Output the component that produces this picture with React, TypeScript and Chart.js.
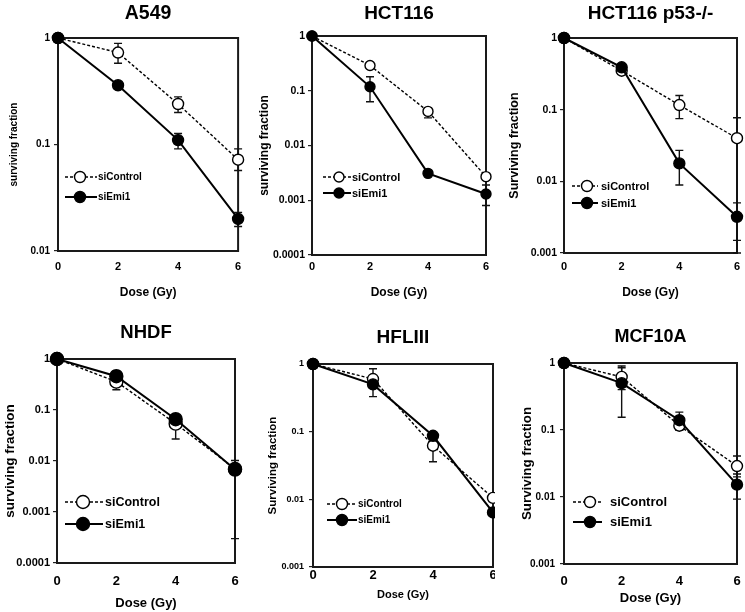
import React, { useEffect, useRef } from "react";
import { Chart, registerables } from "chart.js";

Chart.register(...registerables);

const FONT = "'Liberation Sans', Arial, Helvetica, sans-serif";

// ---------- shared ----------
const doses = [0, 2, 4, 6];
const xTickValues = [0, 2, 4, 6];
const seriesNames = ["siControl", "siEmi1"];
const xAxisTitle = "Dose (Gy)";

// ---------- A549 ----------
const a549Control = [1, 0.73, 0.24, 0.072];
const a549ControlLow = [1, 0.58, 0.2, 0.057];
const a549ControlHigh = [1, 0.89, 0.28, 0.091];
const a549Emi1 = [1, 0.36, 0.11, 0.02];
const a549Emi1Low = [1, 0.34, 0.091, 0.017];
const a549Emi1High = [1, 0.38, 0.127, 0.023];
const a549YTicks = [0.01, 0.1, 1];

// ---------- HCT116 ----------
const hctControl = [1, 0.29, 0.042, 0.0027];
const hctControlLow = [1, 0.27, 0.032, 0.0024];
const hctControlHigh = [1, 0.31, 0.048, 0.003];
const hctEmi1 = [1, 0.118, 0.0031, 0.0013];
const hctEmi1Low = [1, 0.063, 0.0029, 0.0008];
const hctEmi1High = [1, 0.18, 0.0033, 0.0019];
const hctYTicks = [0.0001, 0.001, 0.01, 0.1, 1];

// ---------- HCT116 p53-/- ----------
const p53Control = [1, 0.35, 0.116, 0.04];
const p53ControlLow = [1, 0.33, 0.075, 0.001];
const p53ControlHigh = [1, 0.37, 0.158, 0.077];
const p53Emi1 = [1, 0.39, 0.0178, 0.0032];
const p53Emi1Low = [1, 0.37, 0.0089, 0.0015];
const p53Emi1High = [1, 0.41, 0.027, 0.005];
const p53YTicks = [0.001, 0.01, 0.1, 1];

// ---------- NHDF ----------
const nhdfControl = [1, 0.36, 0.054, 0.007];
const nhdfControlLow = [1, 0.25, 0.027, 0.0065];
const nhdfControlHigh = [1, 0.45, 0.07, 0.0075];
const nhdfEmi1 = [1, 0.46, 0.066, 0.0068];
const nhdfEmi1Low = [1, 0.37, 0.055, 0.0003];
const nhdfEmi1High = [1, 0.58, 0.075, 0.0102];
const nhdfYTicks = [0.0001, 0.001, 0.01, 0.1, 1];

// ---------- HFLIII ----------
const hflControl = [1, 0.6, 0.062, 0.0105];
const hflControlLow = [1, 0.45, 0.036, 0.0095];
const hflControlHigh = [1, 0.85, 0.08, 0.0115];
const hflEmi1 = [1, 0.5, 0.087, 0.0064];
const hflEmi1Low = [1, 0.33, 0.078, 0.006];
const hflEmi1High = [1, 0.65, 0.097, 0.0068];
const hflYTicks = [0.001, 0.01, 0.1, 1];

// ---------- MCF10A ----------
const mcfControl = [1, 0.62, 0.116, 0.029];
const mcfControlLow = [1, 0.4, 0.1, 0.02];
const mcfControlHigh = [1, 0.9, 0.13, 0.041];
const mcfEmi1 = [1, 0.5, 0.14, 0.0153];
const mcfEmi1Low = [1, 0.155, 0.1, 0.0093];
const mcfEmi1High = [1, 0.85, 0.185, 0.022];
const mcfYTicks = [0.001, 0.01, 0.1, 1];

type Layout = {
  canvas: [number, number, number, number]; // left, top, right, bottom (page px)
  plot: [number, number, number, number]; // left, top, right, bottom (page px)
  clipRight?: number; // visible right edge (page px)
  titleY: number;
  titleSize: number;
  yTitleX: number;
  yTitleSize: number;
  xTitleY: number;
  xTitleSize: number;
  xTickY: number;
  xTickSize: number;
  yTickRight: number;
  yTickSize: number;
  radius: number;
  legend: { x0: number; x1: number; cx: number; tx: number; ys: [number, number]; size: number };
};

type PanelDef = {
  title: string;
  yTitle: string;
  yTicks: number[];
  control: number[];
  controlLow: number[];
  controlHigh: number[];
  emi1: number[];
  emi1Low: number[];
  emi1High: number[];
  layout: Layout;
};

const panels: PanelDef[] = [
  {
    title: "A549",
    yTitle: "surviving fraction",
    yTicks: a549YTicks,
    control: a549Control, controlLow: a549ControlLow, controlHigh: a549ControlHigh,
    emi1: a549Emi1, emi1Low: a549Emi1Low, emi1High: a549Emi1High,
    layout: {
      canvas: [0, 0, 245, 300], plot: [58, 38, 240, 251],
      titleY: 14, titleSize: 19.5,
      yTitleX: 14, yTitleSize: 10,
      xTitleY: 293, xTitleSize: 12, xTickY: 268, xTickSize: 11,
      yTickRight: 50, yTickSize: 10, radius: 5.5,
      legend: { x0: 65, x1: 97, cx: 80, tx: 98, ys: [177, 197], size: 10 },
    },
  },
  {
    title: "HCT116",
    yTitle: "surviving fraction",
    yTicks: hctYTicks,
    control: hctControl, controlLow: hctControlLow, controlHigh: hctControlHigh,
    emi1: hctEmi1, emi1Low: hctEmi1Low, emi1High: hctEmi1High,
    layout: {
      canvas: [245, 0, 494, 300], plot: [312, 36, 486, 255],
      titleY: 14, titleSize: 19,
      yTitleX: 265, yTitleSize: 12,
      xTitleY: 293, xTitleSize: 12, xTickY: 268, xTickSize: 11,
      yTickRight: 305, yTickSize: 10.5, radius: 5,
      legend: { x0: 323, x1: 351, cx: 339, tx: 352, ys: [177, 193], size: 11 },
    },
  },
  {
    title: "HCT116 p53-/-",
    yTitle: "Surviving fraction",
    yTicks: p53YTicks,
    control: p53Control, controlLow: p53ControlLow, controlHigh: p53ControlHigh,
    emi1: p53Emi1, emi1Low: p53Emi1Low, emi1High: p53Emi1High,
    layout: {
      canvas: [500, 0, 745, 300], plot: [564, 38, 737, 253],
      titleY: 14, titleSize: 19,
      yTitleX: 515, yTitleSize: 12.5,
      xTitleY: 293, xTitleSize: 12, xTickY: 268, xTickSize: 11,
      yTickRight: 557, yTickSize: 10.5, radius: 5.5,
      legend: { x0: 572, x1: 598, cx: 587, tx: 601, ys: [186, 203], size: 11 },
    },
  },
  {
    title: "NHDF",
    yTitle: "surviving fraction",
    yTicks: nhdfYTicks,
    control: nhdfControl, controlLow: nhdfControlLow, controlHigh: nhdfControlHigh,
    emi1: nhdfEmi1, emi1Low: nhdfEmi1Low, emi1High: nhdfEmi1High,
    layout: {
      canvas: [0, 305, 245, 612], plot: [57, 359, 235, 563],
      titleY: 333, titleSize: 18.5,
      yTitleX: 10, yTitleSize: 13.5,
      xTitleY: 603, xTitleSize: 13, xTickY: 582, xTickSize: 13,
      yTickRight: 50, yTickSize: 11, radius: 6.5,
      legend: { x0: 65, x1: 103, cx: 83, tx: 105, ys: [502, 524], size: 12.5 },
    },
  },
  {
    title: "HFLIII",
    yTitle: "Surviving fraction",
    yTicks: hflYTicks,
    control: hflControl, controlLow: hflControlLow, controlHigh: hflControlHigh,
    emi1: hflEmi1, emi1Low: hflEmi1Low, emi1High: hflEmi1High,
    layout: {
      canvas: [250, 305, 506, 612], plot: [313, 364, 493, 567], clipRight: 495,
      titleY: 338, titleSize: 19,
      yTitleX: 273, yTitleSize: 11.5,
      xTitleY: 595, xTitleSize: 11, xTickY: 576, xTickSize: 13,
      yTickRight: 304, yTickSize: 9, radius: 5.5,
      legend: { x0: 327, x1: 357, cx: 342, tx: 358, ys: [504, 520], size: 10 },
    },
  },
  {
    title: "MCF10A",
    yTitle: "Surviving fraction",
    yTicks: mcfYTicks,
    control: mcfControl, controlLow: mcfControlLow, controlHigh: mcfControlHigh,
    emi1: mcfEmi1, emi1Low: mcfEmi1Low, emi1High: mcfEmi1High,
    layout: {
      canvas: [510, 305, 745, 612], plot: [564, 363, 737, 564],
      titleY: 337, titleSize: 18,
      yTitleX: 527, yTitleSize: 13.3,
      xTitleY: 598, xTitleSize: 13, xTickY: 582, xTickSize: 13,
      yTickRight: 555, yTickSize: 10, radius: 5.5,
      legend: { x0: 573, x1: 602, cx: 590, tx: 610, ys: [502, 522], size: 13 },
    },
  },
];

const framePlugin = {
  id: "frame",
  beforeDatasetsDraw(chart: any) {
    const { ctx, chartArea: a } = chart;
    ctx.save();
    ctx.strokeStyle = "#1a1a1a";
    ctx.lineWidth = 2;
    ctx.strokeRect(a.left, a.top, a.right - a.left, a.bottom - a.top);
    ctx.restore();
  },
};

const errorBarPlugin = {
  id: "errorBars",
  beforeDatasetsDraw(chart: any) {
    const { ctx } = chart;
    const xs = chart.scales.x;
    const ys = chart.scales.y;
    const cap = 4;
    chart.data.datasets.forEach((ds: any) => {
      const lo: number[] = ds.errLow;
      const hi: number[] = ds.errHigh;
      if (!lo || !hi) return;
      ctx.save();
      ctx.strokeStyle = "#111";
      ctx.lineWidth = 1.4;
      ctx.setLineDash([]);
      ds.data.forEach((p: any, i: number) => {
        if (lo[i] === hi[i]) return;
        const px = xs.getPixelForValue(p.x);
        const yl = ys.getPixelForValue(lo[i]);
        const yh = ys.getPixelForValue(hi[i]);
        ctx.beginPath();
        ctx.moveTo(px, yl);
        ctx.lineTo(px, yh);
        ctx.moveTo(px - cap, yl);
        ctx.lineTo(px + cap, yl);
        ctx.moveTo(px - cap, yh);
        ctx.lineTo(px + cap, yh);
        ctx.stroke();
      });
      ctx.restore();
    });
  },
};

const inlineLegendPlugin = {
  id: "inlineLegend",
  afterDatasetsDraw(chart: any, _args: any, opts: any) {
    if (!opts || !opts.items) return;
    const { ctx } = chart;
    const datasets = chart.data.datasets;
    opts.items.forEach((it: any) => {
      const ds = datasets.find((d: any) => d.label === it.label);
      if (!ds) return;
      const y = it.y;
      ctx.save();
      ctx.strokeStyle = "#000";
      ctx.lineWidth = ds.borderWidth;
      ctx.setLineDash(ds.borderDash || []);
      ctx.beginPath();
      ctx.moveTo(opts.x0, y);
      ctx.lineTo(opts.x1, y);
      ctx.stroke();
      ctx.setLineDash([]);
      ctx.beginPath();
      ctx.arc(opts.cx, y, ds.pointRadius, 0, Math.PI * 2);
      ctx.fillStyle = ds.pointBackgroundColor;
      ctx.fill();
      ctx.lineWidth = ds.pointBorderWidth;
      ctx.strokeStyle = "#000";
      ctx.stroke();
      ctx.fillStyle = "#000";
      ctx.font = `bold ${opts.size}px ${FONT}`;
      ctx.textAlign = "left";
      ctx.textBaseline = "middle";
      ctx.fillText(it.label, opts.tx, y + 0.5);
      ctx.restore();
    });
  },
};

function Panel({ def }: { def: PanelDef }) {
  const ref = useRef<HTMLCanvasElement | null>(null);
  const L = def.layout;
  const [cl, ct, cr, cb] = L.canvas;
  const [pl, pt, pr, pb] = L.plot;
  const w = cr - cl;
  const h = cb - ct;

  useEffect(() => {
    if (!ref.current) return;
    const yw = pl - cl;
    const th = pt - ct;
    const xh = cb - pb;
    const rp = cr - pr;
    const tickLen = 4;

    const titlePadTop = L.titleY - ct - L.titleSize / 2;
    const titlePadBottom = th - titlePadTop - L.titleSize;
    const yTitlePad = L.yTitleX - cl - L.yTitleSize / 2;
    const xTitlePad = cb - L.xTitleY - L.xTitleSize / 2;
    const xTickPad = L.xTickY - L.xTickSize * 0.55 - pb;
    const yTickPad = pl - tickLen - L.yTickRight;

    const mk = (vals: number[]) => doses.map((x, i) => ({ x, y: vals[i] }));

    const chart = new Chart(ref.current, {
      type: "line",
      data: {
        datasets: [
          {
            label: seriesNames[0],
            data: mk(def.control),
            borderColor: "#000",
            borderWidth: 1.4,
            borderDash: [3, 2],
            pointRadius: L.radius,
            pointBackgroundColor: "#fff",
            pointBorderColor: "#000",
            pointBorderWidth: 1.4,
            tension: 0,
            order: 2,
            clip: false,
            errLow: def.controlLow,
            errHigh: def.controlHigh,
          } as any,
          {
            label: seriesNames[1],
            data: mk(def.emi1),
            borderColor: "#000",
            borderWidth: 2,
            pointRadius: L.radius,
            pointBackgroundColor: "#000",
            pointBorderColor: "#000",
            pointBorderWidth: 1.4,
            tension: 0,
            order: 1,
            clip: false,
            errLow: def.emi1Low,
            errHigh: def.emi1High,
          } as any,
        ],
      },
      options: {
        animation: false,
        responsive: false,
        devicePixelRatio: 1,
        events: [],
        layout: { padding: { left: 0, top: 0, bottom: 0, right: rp } },
        plugins: {
          legend: { display: false },
          tooltip: { enabled: false },
          title: {
            display: true,
            text: def.title,
            color: "#000",
            fullSize: false,
            font: { family: FONT, size: L.titleSize, weight: "bold", lineHeight: 1 },
            padding: { top: titlePadTop, bottom: titlePadBottom },
          },
          inlineLegend: {
            x0: L.legend.x0 - cl,
            x1: L.legend.x1 - cl,
            cx: L.legend.cx - cl,
            tx: L.legend.tx - cl,
            size: L.legend.size,
            items: [
              { label: seriesNames[0], y: L.legend.ys[0] - ct },
              { label: seriesNames[1], y: L.legend.ys[1] - ct },
            ],
          },
        } as any,
        scales: {
          x: {
            type: "linear",
            min: 0,
            max: 6,
            afterBuildTicks: (s: any) => {
              s.ticks = xTickValues.map((v) => ({ value: v }));
            },
            afterFit: (s: any) => {
              s.height = xh;
              s.paddingLeft = 0;
              s.paddingRight = 0;
            },
            grid: { display: false, drawTicks: false, drawOnChartArea: false },
            border: { display: false },
            ticks: {
              color: "#000",
              padding: xTickPad,
              maxRotation: 0,
              autoSkip: false,
              font: { family: FONT, size: L.xTickSize, weight: "bold", lineHeight: 1 },
              callback: (v: any) => String(v),
            },
            title: {
              display: true,
              text: xAxisTitle,
              color: "#000",
              font: { family: FONT, size: L.xTitleSize, weight: "bold", lineHeight: 1 },
              padding: { top: 0, bottom: xTitlePad },
            },
          },
          y: {
            type: "logarithmic",
            min: def.yTicks[0],
            max: def.yTicks[def.yTicks.length - 1],
            afterBuildTicks: (s: any) => {
              s.ticks = def.yTicks.map((v) => ({ value: v }));
            },
            afterFit: (s: any) => {
              s.width = yw;
              s.paddingTop = 0;
              s.paddingBottom = 0;
            },
            grid: {
              display: true,
              drawOnChartArea: false,
              drawTicks: true,
              tickLength: tickLen,
              color: "#222",
              lineWidth: 1.2,
            },
            border: { display: false },
            ticks: {
              color: "#000",
              padding: yTickPad,
              autoSkip: false,
              font: { family: FONT, size: L.yTickSize, weight: "bold", lineHeight: 1 },
              callback: (v: any) => String(v),
            },
            title: {
              display: true,
              text: def.yTitle,
              color: "#000",
              font: { family: FONT, size: L.yTitleSize, weight: "bold", lineHeight: 1 },
              padding: { top: yTitlePad, bottom: 0 },
            },
          },
        },
      },
      plugins: [framePlugin, errorBarPlugin, inlineLegendPlugin],
    });
    return () => chart.destroy();
  }, []);

  const clip = L.clipRight !== undefined ? `inset(0px ${cr - L.clipRight}px 0px 0px)` : undefined;

  return (
    <canvas
      ref={ref}
      width={w}
      height={h}
      style={{ position: "absolute", left: cl, top: ct, width: w, height: h, clipPath: clip }}
    />
  );
}

export default function App() {
  return (
    <div
      style={{
        position: "absolute",
        left: 0,
        top: 0,
        width: 745,
        height: 612,
        background: "#fff",
        overflow: "hidden",
      }}
    >
      {panels.map((p) => (
        <Panel key={p.title} def={p} />
      ))}
    </div>
  );
}
